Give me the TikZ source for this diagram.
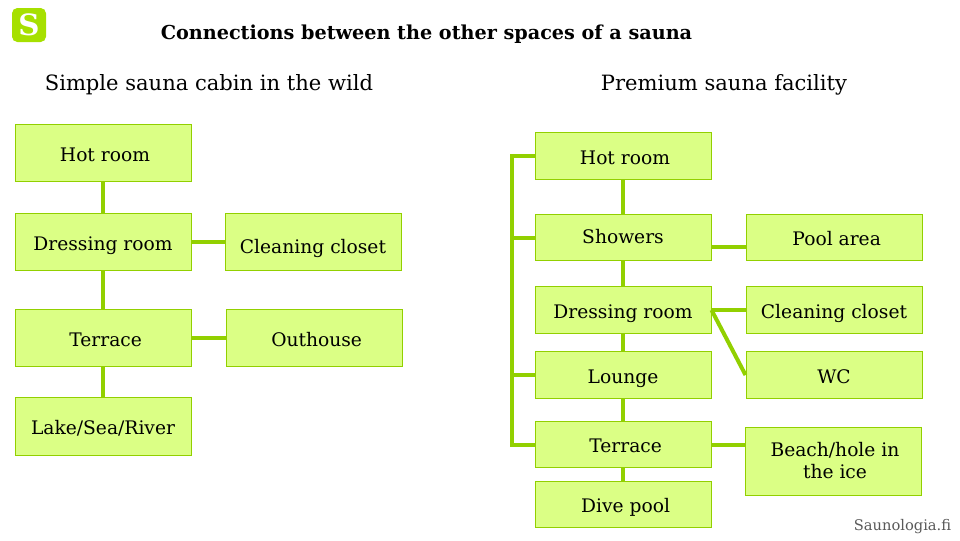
\documentclass[tikz,border=0pt]{standalone}
\usepackage{fontspec}
\setmainfont{DejaVu Serif}
\definecolor{roomfill}{HTML}{DBFF85}
\definecolor{roomline}{HTML}{92D000}
\definecolor{logogreen}{HTML}{A6E000}
\tikzset{
    room/.style={draw=roomline,fill=roomfill,line width=0.75pt,minimum width=132pt,inner sep=0pt,align=center,font=\fontsize{14}{16.5}\selectfont},
    tall/.style={room,minimum height=43pt,text height=12.5pt,text depth=0pt},
    short/.style={room,minimum height=35pt,text height=12.5pt,text depth=0pt},
    link/.style={draw=roomline,line width=3pt},
    heading/.style={font=\fontsize{15.8}{18}\selectfont}
}
\begin{document}
\begin{tikzpicture}[x=0.75pt,y=-0.75pt]
    \useasboundingbox (0,0) rectangle (960,540);

    % Logo e titoli
    \node[fill=logogreen,rounded corners=4pt,minimum size=25.5pt,inner sep=0pt,text=white,font=\fontsize{22}{22}\selectfont\bfseries] (logo) at (29,25) {S};
    \node[font=\fontsize{14.4}{18}\selectfont\bfseries] (title) at (426.5,34) {Connections between the other spaces of a sauna};
    \node[heading] (simple) at (209,84.5) {Simple sauna cabin in the wild};
    \node[heading] (premium) at (724,84.5) {Premium sauna facility};
    \node[text=black!65,font=\fontsize{11}{14}\selectfont] (site) at (902.5,527) {Saunologia.fi};

    % Cabina semplice
    \node[tall] (hotA) at (103,153) {\hspace{3pt}Hot room};
    \node[tall] (dressA) at (103,242) {Dressing room};
    \node[tall] (closetA) at (313,242) {\raisebox{-2pt}{Cleaning closet}};
    \node[tall] (terraceA) at (103,338) {\hspace{4pt}Terrace};
    \node[tall] (outhouseA) at (314,338) {\hspace{4pt}Outhouse};
    \node[tall] (lakeA) at (103,426.5) {Lake/Sea/River};

    % Sauna premium
    \node[short] (hotB) at (623,156) {\hspace{3pt}Hot room};
    \node[short] (showersB) at (623,237.5) {\raisebox{2pt}{Showers}};
    \node[short] (poolB) at (834,237.5) {\hspace{4pt}Pool area};
    \node[short] (dressB) at (623,310) {Dressing room};
    \node[short] (closetB) at (834,310) {Cleaning closet};
    \node[short] (loungeB) at (623,375) {Lounge};
    \node[short] (wcB) at (834,375) {WC};
    \node[short] (terraceB) at (623,444.5) {\hspace{4pt}Terrace};
    \node[room,minimum height=51pt] (beachB) at (833,461) {\hspace{3pt}Beach/hole in\\\hspace{3pt}the ice};
    \node[short] (diveB) at (623,504.5) {\hspace{4pt}Dive pool};

    % Collegamenti
    \foreach \a/\b in {hotA/dressA,dressA/terraceA,terraceA/lakeA,hotB/showersB,showersB/dressB,dressB/loungeB,loungeB/terraceB,terraceB/diveB} {
        \draw[link] (\a) -- (\b);
    }
    \foreach \a/\b in {dressA/closetA,terraceA/outhouseA,dressB/closetB} {
        \draw[link] (\a.east) -- (\b.west);
    }
    \draw[link] ([yshift=-7pt]showersB.east) -- ([yshift=-7pt]poolB.west);
    \draw[link] (dressB.east) -- (wcB.west);
    \draw[link] (terraceB.east) -- (terraceB.east -| beachB.west);

    % Barra a sinistra
    \coordinate (railtop) at (hotB.west -| 512,0);
    \coordinate (railend) at (terraceB.west -| 512,0);
    \draw[link] (hotB.west) -- (railtop) -- (railend) -- (terraceB.west);
    \foreach \a in {showersB,loungeB} {
        \draw[link] (\a.west) -- (\a.west -| railtop);
    }
\end{tikzpicture}
\end{document}
